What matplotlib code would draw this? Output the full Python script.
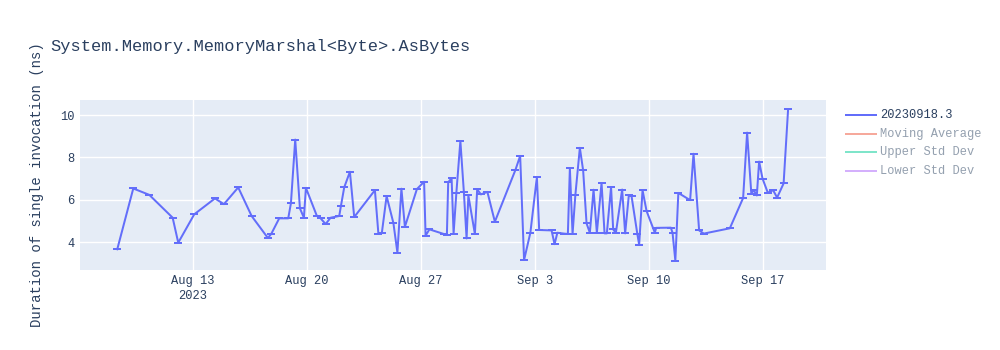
import matplotlib
matplotlib.use("Agg")
import matplotlib.pyplot as plt
import matplotlib.dates as mdates
from matplotlib.lines import Line2D
import pandas as pd

plt.rcParams["font.family"] = ["Liberation Mono", "DejaVu Sans Mono"]

# Benchmark run timestamps and measured durations (ns)
run_times = [
    "2023-08-08 08:54", "2023-08-09 08:30", "2023-08-10 08:04", "2023-08-11 18:32",
    "2023-08-12 02:47", "2023-08-13 02:21", "2023-08-14 08:51", "2023-08-14 22:06",
    "2023-08-15 19:10", "2023-08-16 14:55", "2023-08-17 14:56", "2023-08-17 20:05",
    "2023-08-18 07:35", "2023-08-18 20:51", "2023-08-19 00:49", "2023-08-19 07:09",
    "2023-08-19 14:05", "2023-08-19 19:58", "2023-08-19 22:55", "2023-08-20 15:07",
    "2023-08-20 20:35", "2023-08-21 03:56", "2023-08-21 11:18", "2023-08-22 00:00",
    "2023-08-22 02:30", "2023-08-22 07:20", "2023-08-22 15:45", "2023-08-22 22:05",
    "2023-08-24 04:35", "2023-08-24 09:45", "2023-08-24 14:53", "2023-08-24 21:49",
    "2023-08-25 07:50", "2023-08-25 13:44", "2023-08-25 19:38", "2023-08-26 00:47",
    "2023-08-26 18:27", "2023-08-27 05:04", "2023-08-27 07:16", "2023-08-27 12:52",
    "2023-08-28 10:15", "2023-08-28 14:40", "2023-08-28 16:35", "2023-08-28 21:35",
    "2023-08-29 00:32", "2023-08-29 04:39", "2023-08-29 10:32", "2023-08-29 15:42",
    "2023-08-29 19:41", "2023-08-29 22:19", "2023-08-30 07:55", "2023-08-30 11:18",
    "2023-08-30 16:45", "2023-08-31 02:20", "2023-08-31 13:22", "2023-09-01 19:35",
    "2023-09-02 02:38", "2023-09-02 08:24", "2023-09-02 17:41", "2023-09-03 03:16",
    "2023-09-03 06:39", "2023-09-04 00:55", "2023-09-04 05:20", "2023-09-04 09:27",
    "2023-09-04 19:02", "2023-09-05 00:56", "2023-09-05 03:53", "2023-09-05 07:51",
    "2023-09-05 11:58", "2023-09-05 18:36", "2023-09-05 23:28", "2023-09-06 04:29",
    "2023-09-06 09:20", "2023-09-06 14:47", "2023-09-06 19:39", "2023-09-07 02:34",
    "2023-09-07 07:00", "2023-09-07 10:23", "2023-09-07 16:35", "2023-09-07 19:41",
    "2023-09-07 23:40", "2023-09-08 08:56", "2023-09-08 13:21", "2023-09-08 18:48",
    "2023-09-08 22:46", "2023-09-09 07:19", "2023-09-09 09:59", "2023-09-09 14:59",
    "2023-09-09 20:53", "2023-09-10 09:07", "2023-09-10 11:01", "2023-09-11 08:41",
    "2023-09-11 11:11", "2023-09-11 15:19", "2023-09-11 19:44", "2023-09-12 13:06",
    "2023-09-12 18:07", "2023-09-13 02:22", "2023-09-13 09:17", "2023-09-14 23:36",
    "2023-09-15 19:12", "2023-09-16 01:05", "2023-09-16 07:16", "2023-09-16 10:58",
    "2023-09-16 15:23", "2023-09-16 18:46", "2023-09-16 23:47", "2023-09-17 07:35",
    "2023-09-17 15:23", "2023-09-17 21:17", "2023-09-18 06:52", "2023-09-18 13:30",
]
durations = [
    3.66, 6.53, 6.23, 5.15, 3.97, 5.31, 6.06, 5.79,
    6.58, 5.23, 4.19, 4.40, 5.12, 5.12, 5.83, 8.84,
    5.59, 5.15, 6.56, 5.23, 5.12, 4.85, 5.15, 5.23,
    5.70, 6.58, 7.32, 5.18, 6.45, 4.38, 4.45, 6.17,
    4.90, 3.50, 6.52, 4.72, 6.50, 6.85, 4.30, 4.60,
    4.38, 4.35, 6.82, 7.02, 4.40, 6.34, 8.77, 6.35,
    4.17, 6.20, 4.38, 6.49, 6.25, 6.37, 4.96, 7.40,
    8.07, 3.15, 4.44, 7.07, 4.57, 4.55, 3.90, 4.44,
    4.40, 4.38, 7.48, 4.38, 6.22, 8.45, 7.38, 4.88,
    4.44, 6.47, 4.44, 6.79, 4.41, 4.41, 6.60, 4.60,
    4.43, 6.48, 4.41, 6.22, 6.17, 4.38, 3.88, 6.45,
    5.47, 4.44, 4.67, 4.68, 4.44, 3.12, 6.32, 5.98,
    8.17, 4.55, 4.40, 4.65, 6.08, 9.17, 6.29, 6.45,
    6.20, 7.80, 7.00, 6.33, 6.45, 6.10, 6.77, 10.28,
]
error_ns = 0.0

series_name = "20230918.3"
legend_labels = [series_name, "Moving Average", "Upper Std Dev", "Lower Std Dev"]
legend_colors = ["#636EFA", "#EF553B", "#00CC96", "#AB63FA"]

x_tick_dates = ["2023-08-13", "2023-08-20", "2023-08-27", "2023-09-03", "2023-09-10", "2023-09-17"]
x_tick_labels = ["Aug 13\n2023", "Aug 20", "Aug 27", "Sep 3", "Sep 10", "Sep 17"]
y_ticks = [4, 6, 8, 10]

TEXT = "#2a3f5f"
FADED_TEXT = "#94a0af"
W, H = 1000, 350

fig = plt.figure(figsize=(W / 100, H / 100), dpi=100)
ax = fig.add_axes([80 / W, 1 - 270 / H, (826 - 80) / W, (270 - 100) / H])
ax.set_facecolor("#E5ECF6")

times = pd.to_datetime(run_times)
ax.errorbar(times, durations, yerr=error_ns, color=legend_colors[0], lw=2 * 0.72,
            ecolor=legend_colors[0], elinewidth=1.5 * 0.72, capsize=2.9,
            capthick=2 * 0.72, zorder=3)

ax.set_xlim(pd.Timestamp("2023-08-06 02:00"), pd.Timestamp("2023-09-20 21:20"))
ax.set_ylim(2.68, 10.71)
ax.set_xticks(pd.to_datetime(x_tick_dates))
ax.set_xticklabels(x_tick_labels, linespacing=1.35)
ax.set_yticks(y_ticks)
ax.set_yticklabels([str(v) for v in y_ticks])
ax.grid(True, color="white", lw=1)
ax.set_axisbelow(True)
for s in ax.spines.values():
    s.set_visible(False)
ax.tick_params(length=0, labelsize=8.64, labelcolor=TEXT)
ax.tick_params(axis="x", pad=3.5)
ax.tick_params(axis="y", pad=4)

fig.text(50 / W, 1 - 46 / H, "System.Memory.MemoryMarshal<Byte>.AsBytes",
         fontsize=12.24, color=TEXT, ha="left", va="center")
fig.text(37 / W, 1 - 185 / H, "Duration of single invocation (ns)",
         fontsize=10.08, color=TEXT, rotation=90, ha="center", va="center")

# Legend: the first trace is shown, the others are toggled off
for i, (lab, col) in enumerate(zip(legend_labels, legend_colors)):
    yy = 1 - (115 + 18.6 * i) / H
    alpha = 1.0 if i == 0 else 0.5
    fig.add_artist(Line2D([846 / W, 876 / W], [yy, yy], transform=fig.transFigure,
                          color=col, lw=2 * 0.72, alpha=alpha))
    fig.text(880 / W, yy, lab, fontsize=8.64, color=TEXT if i == 0 else FADED_TEXT,
             ha="left", va="center")

fig.savefig("out.png", dpi=100)
